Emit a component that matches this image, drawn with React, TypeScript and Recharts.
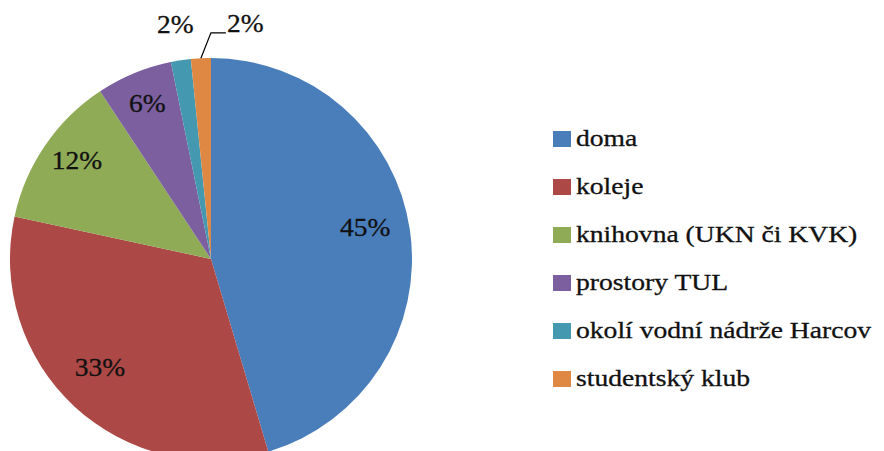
import React from 'react';
import { PieChart, Pie, Cell, Legend } from 'recharts';

const categories = ['doma', 'koleje', 'knihovna (UKN či KVK)', 'prostory TUL', 'okolí vodní nádrže Harcov', 'studentský klub'];
const values = [45.4, 33.0, 12.3, 6.1, 1.6, 1.6];
const labelTexts = ['45%', '33%', '12%', '6%', '2%', '2%'];
const colors = ['#4A7EBB', '#AC4845', '#8FAB56', '#7C5F9E', '#4499B1', '#DE8844'];

const data = categories.map((name, i) => ({ name, value: values[i] }));

const RAD = Math.PI / 180;
const FONT = '"Liberation Serif", "Times New Roman", serif';

const renderLabel = (props: any) => {
  const { cx, cy, midAngle, outerRadius, index } = props;
  const R = outerRadius;
  const pol = (r: number) => ({
    x: cx + r * Math.cos(-midAngle * RAD),
    y: cy + r * Math.sin(-midAngle * RAD),
  });
  const txtStyle = { fontFamily: FONT, fontSize: 25, fill: '#111', stroke: '#111', strokeWidth: 0.3 };
  const mk = (x: number, y: number, anchor: 'middle' | 'start') => (
    <text x={x} y={y} textAnchor={anchor} dominantBaseline="central" style={txtStyle}
      transform={`translate(${x} ${y}) scale(1.1 1) translate(${-x} ${-y})`}>
      {labelTexts[index]}
    </text>
  );
  if (index < 4) {
    const p = pol(R * 0.79);
    return <g key={index}>{mk(p.x - 3, p.y - 8, 'middle')}</g>;
  }
  if (index === 4) {
    const p = pol(R * 1.18);
    return <g key={index}>{mk(p.x, p.y, 'middle')}</g>;
  }
  const p0 = pol(R);
  const p1 = { x: p0.x + 10, y: cy - R * 1.125 };
  const p2 = { x: p1.x + 15, y: p1.y };
  return (
    <g key={index}>
      <polyline points={`${p0.x},${p0.y} ${p1.x},${p1.y} ${p2.x},${p2.y}`} fill="none" stroke="#000" strokeWidth={1.2} />
      {mk(p2.x + 1, p2.y - 9, 'start')}
    </g>
  );
};

const renderLegend = () => {
  return (
    <div style={{ fontFamily: FONT, fontSize: 23, color: '#111', WebkitTextStroke: '0.3px #111' }}>
      {categories.map((name, i) => (
        <div key={name} style={{ height: 48, display: 'flex', alignItems: 'center' }}>
          <span style={{ display: 'inline-block', width: 18, height: 16, background: colors[i], marginRight: 5, flex: 'none' }} />
          <span style={{ display: 'inline-block', transform: 'scaleX(1.2)', transformOrigin: 'left center', whiteSpace: 'nowrap', lineHeight: '48px' }}>
            {name}
          </span>
        </div>
      ))}
    </div>
  );
};

export default function App() {
  return (
    <div style={{ position: 'absolute', left: 0, top: 0, width: 884, height: 451, background: '#fff' }}>
      <PieChart width={884} height={451} margin={{ top: 0, right: 0, bottom: 0, left: 0 }}>
        <Pie
          data={data}
          dataKey="value"
          nameKey="name"
          cx={211}
          cy={259}
          outerRadius={201}
          startAngle={90}
          endAngle={-270}
          stroke="none"
          label={renderLabel}
          labelLine={false}
          isAnimationActive={false}
        >
          {data.map((d, i) => (
            <Cell key={d.name} fill={colors[i]} />
          ))}
        </Pie>
        <Legend
          layout="vertical"
          verticalAlign="middle"
          align="right"
          content={renderLegend}
          wrapperStyle={{ position: 'absolute', left: 553, top: 115, width: 331 }}
        />
      </PieChart>
    </div>
  );
}
